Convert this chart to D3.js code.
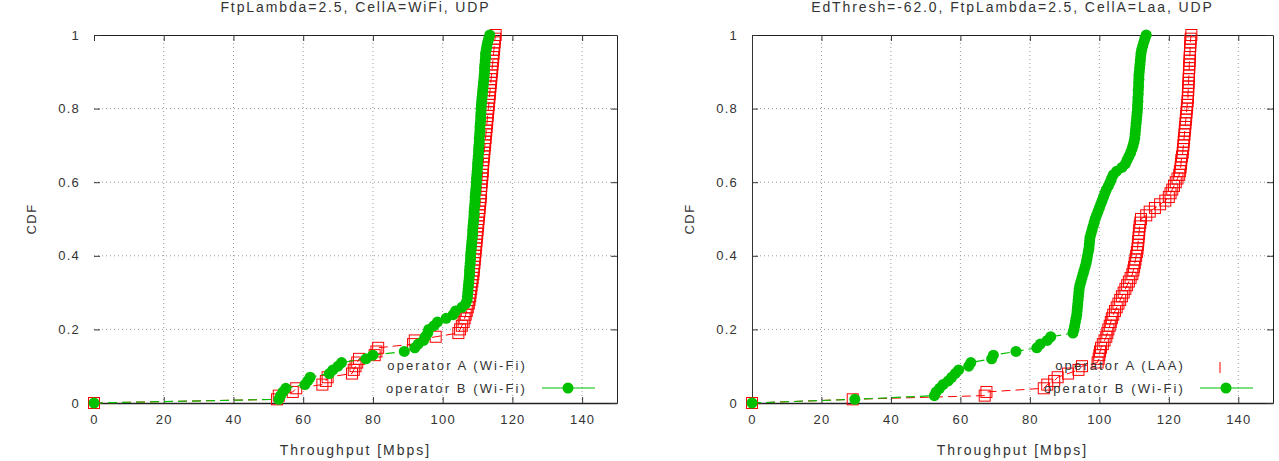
<!DOCTYPE html>
<html>
<head>
<meta charset="utf-8">
<script src="https://cdn.jsdelivr.net/npm/d3@7"></script>
<style>
body { margin: 0; background: #fff; }
text { font-family: "Liberation Sans", Arial, sans-serif; fill: #333; }
</style>
</head>
<body>
<svg></svg>
<script>
// throughput samples (Mbps), sorted, one per CDF step
var leftA = [0,
  52.5, 53, 57, 58, 65.5, 66.5, 67, 74, 74.5, 75, 75.5, 76, 80.5, 81, 81.5, 91.5, 92, 98, 104.5, 105, 105.5, 106, 106.3, 106.6, 106.9, 107.2,
  107.5, 107.7, 107.9, 108.0, 108.2, 108.3, 108.5, 108.6, 108.8, 108.9, 109.0, 109.1, 109.2, 109.3,
  109.4, 109.5, 109.6, 109.7, 109.8, 109.9, 110.0, 110.1, 110.2, 110.3, 110.4, 110.5, 110.6, 110.7, 110.8, 110.9, 111.0, 111.0, 111.1, 111.2,
  111.3, 111.4, 111.5, 111.5, 111.6, 111.7, 111.8, 111.9, 112.0, 112.1, 112.2, 112.3, 112.4, 112.5, 112.6, 112.7, 112.8, 112.9, 113.0, 113.1,
  113.2, 113.3, 113.4, 113.5, 113.6, 113.7, 113.8, 113.9, 114.0, 114.1, 114.2, 114.3, 114.4, 114.5, 114.6, 114.7, 114.8, 114.9, 115.0, 115.2];
var leftB = [0,
  53, 53.5, 54.2, 55, 60.5, 61.3, 62, 67.5, 68.5, 70, 71, 78, 80, 89, 92, 93, 94.5, 95, 95.7, 96, 97.5, 98.5, 101, 103, 103.7, 105.5, 106.6,
  107.0, 107.1, 107.2, 107.3, 107.4, 107.5, 107.6, 107.7, 107.7, 107.8, 107.9, 108.0, 108.0,
  108.1, 108.2, 108.3, 108.4, 108.5, 108.6, 108.6, 108.7, 108.8, 108.9, 109.0, 109.0, 109.1, 109.2, 109.3, 109.3, 109.4, 109.5, 109.6, 109.7,
  109.7, 109.8, 109.9, 110.0, 110.0, 110.1, 110.2, 110.3, 110.3, 110.4, 110.5, 110.5, 110.6, 110.7, 110.7, 110.8, 110.9, 110.9, 111.0, 111.0,
  111.1, 111.2, 111.3, 111.4, 111.5, 111.6, 111.7, 111.8, 111.9, 112.0, 112.0, 112.1, 112.2, 112.3, 112.3,
  112.5, 112.7, 112.9, 113.2, 113.5];
var rightA = [0,
  29, 67, 67.5, 84, 85, 87, 88, 91, 94, 95, 99.5, 99.8, 100, 100.2, 100.5, 101, 101.5, 102, 102.3, 102.6, 103, 103.3, 103.6, 104, 104.5, 105, 105.5, 106, 106.5, 107,
  107.5, 108, 108.5, 109, 109.5, 109.8, 110, 110.2, 110.4, 110.6, 110.8, 111, 111.1, 111.2, 111.3, 111.4, 111.5, 111.6, 111.8, 112,
  113.5, 114.5, 116, 117.5, 119,
  120, 120.5, 121, 121.5, 122, 122.5, 123,
  123.2, 123.4, 123.5, 123.6, 123.8, 124, 124.1, 124.2, 124.3, 124.4, 124.5, 124.6, 124.7,
  124.8, 124.9, 125, 125.1, 125.2, 125.3, 125.4, 125.5, 125.5, 125.6, 125.6, 125.7, 125.7, 125.8, 125.8, 125.9, 125.9, 126, 126, 126.1, 126.1, 126.2, 126.2, 126.3, 126.5];
var rightB = [0,
  29.6, 52.5, 53, 54, 55, 56.5, 57.5, 58.5, 59.5, 62.4, 63, 69, 69.5, 76, 82, 83, 85, 86, 92.4,
  92.7, 92.9, 93.1, 93.3, 93.5, 93.6, 93.7, 93.8, 93.9, 94.0, 94.1, 94.2, 94.4,
  94.7, 95.0, 95.3, 95.6, 95.9, 96.2, 96.4, 96.6, 96.8, 97.0, 97.1, 97.2, 97.3,
  97.6, 97.9, 98.2, 98.5, 98.8, 99.2, 99.6, 100.0, 100.4, 100.8, 101.2, 101.6, 102.0,
  102.6, 103.1, 103.5, 104.0, 105.0, 106.5,
  107.5, 108.0, 108.5, 109.0, 109.4, 109.7, 110.0, 110.2, 110.3, 110.4, 110.5,
  110.6, 110.7, 110.8, 110.9, 111.0, 111.0, 111.1, 111.1, 111.2, 111.2, 111.3, 111.3, 111.4, 111.4, 111.5,
  111.6, 111.7, 111.8, 111.9, 112.0, 112.2, 112.5, 112.8, 113.1, 113.5];

var xTicks = [0, 20, 40, 60, 80, 100, 120, 140];
var yTicks = [0, 0.2, 0.4, 0.6, 0.8, 1];
var yTickLabels = ["0", "0.2", "0.4", "0.6", "0.8", "1"];
var titles = ["FtpLambda=2.5, CellA=WiFi, UDP", "EdThresh=-62.0, FtpLambda=2.5, CellA=Laa, UDP"];
var legendA = ["operator A (Wi-Fi)", "operator A (LAA)"];
var legendB = ["operator B (Wi-Fi)", "operator B (Wi-Fi)"];

var width = 1279, height = 461;
var svg = d3.select('svg').attr('width', width).attr('height', height);

var red = '#ff0000', green = '#00c000';

var panels = [
  {x0: 94, x1: 617, a: leftA, b: leftB, leftBorder: false, title: titles[0], la: legendA[0], lb: legendB[0], legX: 527, aMark: false},
  {x0: 752, x1: 1273, a: rightA, b: rightB, leftBorder: true, title: titles[1], la: legendA[1], lb: legendB[1], legX: 1185, aMark: true}
];
var yTop = 35, yBot = 403;

function cdf(vals) {
  return vals.map(function(v, i) { return {x: v, y: i / (vals.length - 1)}; });
}

panels.forEach(function(p) {
  var x = d3.scaleLinear().domain([0, 150]).range([p.x0, p.x1]);
  var y = d3.scaleLinear().domain([0, 1]).range([yBot, yTop]);
  var g = svg.append('g');

  // dotted grid
  g.selectAll('.gx').data(xTicks.slice(1)).enter().append('line')
    .attr('x1', d => x(d)).attr('x2', d => x(d)).attr('y1', yTop).attr('y2', yBot)
    .attr('stroke', '#999').attr('stroke-dasharray', '1,3');
  g.selectAll('.gy').data(yTicks.slice(1, -1)).enter().append('line')
    .attr('x1', p.x0).attr('x2', p.x1).attr('y1', d => y(d)).attr('y2', d => y(d))
    .attr('stroke', '#999').attr('stroke-dasharray', '1,3');

  // axes with inward ticks, gnuplot style
  var bottom = g.append('g').attr('transform', 'translate(0,' + yBot + ')')
    .call(d3.axisBottom(x).tickValues(xTicks).tickSizeInner(-6).tickSizeOuter(0).tickPadding(12));
  var top = g.append('g').attr('transform', 'translate(0,' + yTop + ')')
    .call(d3.axisTop(x).tickValues(xTicks).tickSizeInner(-6).tickSizeOuter(0).tickFormat(''));
  var left = g.append('g').attr('transform', 'translate(' + p.x0 + ',0)')
    .call(d3.axisLeft(y).tickValues(yTicks).tickSizeInner(-6).tickSizeOuter(0).tickPadding(14)
      .tickFormat((d, i) => yTickLabels[i]));
  var right = g.append('g').attr('transform', 'translate(' + p.x1 + ',0)')
    .call(d3.axisRight(y).tickValues(yTicks).tickSizeInner(-6).tickSizeOuter(0).tickFormat(''));

  [bottom, top, left, right].forEach(function(a) {
    a.selectAll('.domain').attr('stroke', '#222');
    a.selectAll('.tick line').attr('stroke', '#333');
    a.selectAll('text').attr('font-size', 13).attr('fill', '#333').attr('letter-spacing', 1.2)
      .style('font-family', '"Liberation Sans", Arial, sans-serif');
  });
  left.select('.domain').attr('stroke', p.leftBorder ? '#333' : 'none');
  bottom.select('.domain').attr('stroke-width', 1.5);

  var line = d3.line().x(d => x(d.x)).y(d => y(d.y));

  // operator A: red dashed with open squares
  var da = cdf(p.a);
  g.append('path').datum(da).attr('d', line).attr('fill', 'none')
    .attr('stroke', red).attr('stroke-width', 1).attr('stroke-dasharray', '9,5');
  g.selectAll('.sq').data(da).enter().append('rect')
    .attr('x', d => x(d.x) - 5.5).attr('y', d => y(d.y) - 5.5)
    .attr('width', 11).attr('height', 11)
    .attr('fill', 'none').attr('stroke', red).attr('stroke-width', 1);

  // operator B: green dashed with filled circles
  var db = cdf(p.b);
  g.append('path').datum(db).attr('d', line).attr('fill', 'none')
    .attr('stroke', green).attr('stroke-width', 1.2).attr('stroke-dasharray', '9,5');
  g.selectAll('.ci').data(db).enter().append('circle')
    .attr('cx', d => x(d.x)).attr('cy', d => y(d.y)).attr('r', 5.5)
    .attr('fill', green);

  // title and axis labels
  var cx = (p.x0 + p.x1) / 2;
  svg.append('text').attr('x', cx).attr('y', 12).attr('text-anchor', 'middle')
    .attr('font-size', 14).attr('letter-spacing', 1.9).text(p.title);
  svg.append('text').attr('x', cx).attr('y', 455).attr('text-anchor', 'middle')
    .attr('font-size', 14).attr('letter-spacing', 2).text('Throughput [Mbps]');
  svg.append('text').attr('transform', 'translate(' + (p.x0 - 58) + ',219) rotate(-90)')
    .attr('text-anchor', 'middle').attr('font-size', 13).attr('letter-spacing', 1.5).text('CDF');

  // legend
  var lg = svg.append('g');
  lg.append('text').attr('x', p.legX).attr('y', 370).attr('text-anchor', 'end')
    .attr('font-size', 13).attr('letter-spacing', 2.1).text(p.la);
  lg.append('text').attr('x', p.legX).attr('y', 393).attr('text-anchor', 'end')
    .attr('font-size', 13).attr('letter-spacing', 2.1).text(p.lb);
  if (p.aMark) {
    lg.append('line').attr('x1', p.legX + 35).attr('x2', p.legX + 35).attr('y1', 362).attr('y2', 373)
      .attr('stroke', red);
  }
  lg.append('line').attr('x1', p.legX + 15).attr('x2', p.legX + 68).attr('y1', 388).attr('y2', 388)
    .attr('stroke', green).attr('stroke-width', 1.2);
  lg.append('circle').attr('cx', p.legX + 41).attr('cy', 388).attr('r', 5.5).attr('fill', green);
});
</script>
</body>
</html>
